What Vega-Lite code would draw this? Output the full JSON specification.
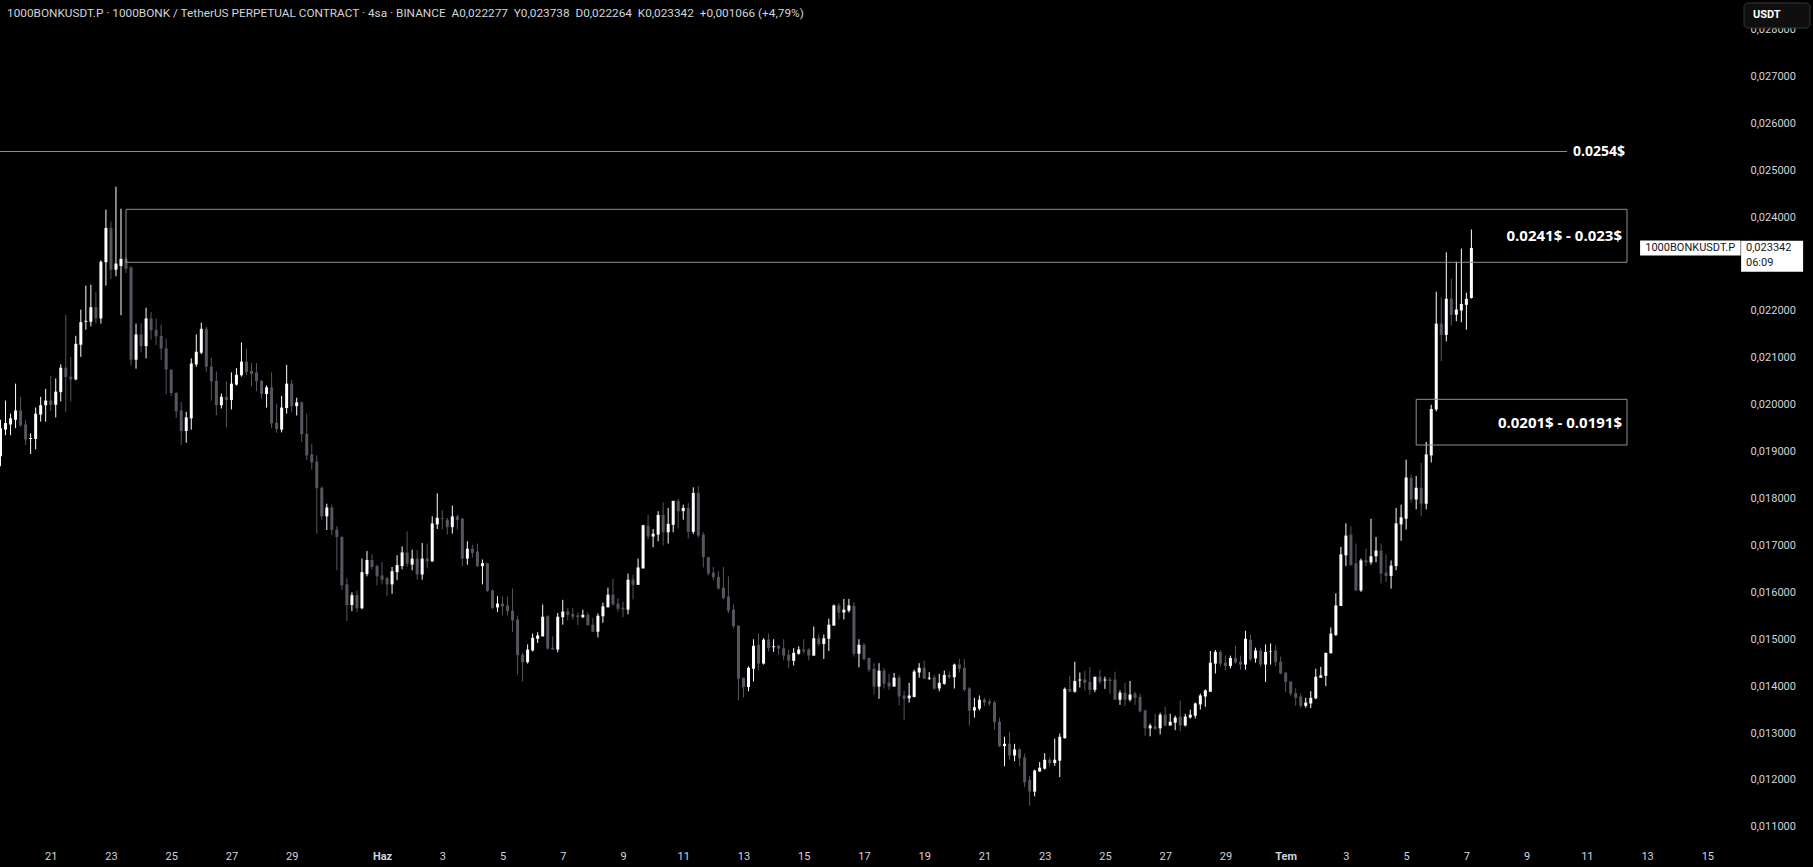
{
"$schema": "https://vega.github.io/schema/vega-lite/v6.json",
"width": 1745, "height": 840,
"autosize": {"type": "none"},
"padding": {"left": 0, "top": 0, "right": 68, "bottom": 27},
"background": "#000000",
"config": {"view": {"stroke": null}, "font": "Roboto"},
"datasets": {"candles": [
{"t":"2025-05-19T08:00Z","o":0.01890,"h":0.01968,"l":0.01869,"c":0.01950},
{"t":"2025-05-19T12:00Z","o":0.01947,"h":0.02009,"l":0.01935,"c":0.01961},
{"t":"2025-05-19T16:00Z","o":0.01958,"h":0.01981,"l":0.01935,"c":0.01971},
{"t":"2025-05-19T20:00Z","o":0.01968,"h":0.02045,"l":0.01950,"c":0.01988},
{"t":"2025-05-20T00:00Z","o":0.01988,"h":0.02017,"l":0.01953,"c":0.01956},
{"t":"2025-05-20T04:00Z","o":0.01958,"h":0.01968,"l":0.01914,"c":0.01926},
{"t":"2025-05-20T08:00Z","o":0.01927,"h":0.01939,"l":0.01895,"c":0.01929},
{"t":"2025-05-20T12:00Z","o":0.01927,"h":0.01994,"l":0.01905,"c":0.01981},
{"t":"2025-05-20T16:00Z","o":0.01979,"h":0.02017,"l":0.01964,"c":0.01999},
{"t":"2025-05-20T20:00Z","o":0.01999,"h":0.02034,"l":0.01964,"c":0.02009},
{"t":"2025-05-21T00:00Z","o":0.02009,"h":0.02062,"l":0.01986,"c":0.02000},
{"t":"2025-05-21T04:00Z","o":0.02000,"h":0.02056,"l":0.01973,"c":0.02028},
{"t":"2025-05-21T08:00Z","o":0.02027,"h":0.02086,"l":0.02007,"c":0.02079},
{"t":"2025-05-21T12:00Z","o":0.02079,"h":0.02192,"l":0.01984,"c":0.02059},
{"t":"2025-05-21T16:00Z","o":0.02060,"h":0.02102,"l":0.02007,"c":0.02054},
{"t":"2025-05-21T20:00Z","o":0.02054,"h":0.02147,"l":0.02052,"c":0.02130},
{"t":"2025-05-22T00:00Z","o":0.02128,"h":0.02203,"l":0.02102,"c":0.02176},
{"t":"2025-05-22T04:00Z","o":0.02177,"h":0.02254,"l":0.02160,"c":0.02179},
{"t":"2025-05-22T08:00Z","o":0.02177,"h":0.02256,"l":0.02167,"c":0.02208},
{"t":"2025-05-22T12:00Z","o":0.02208,"h":0.02240,"l":0.02173,"c":0.02184},
{"t":"2025-05-22T16:00Z","o":0.02184,"h":0.02308,"l":0.02173,"c":0.02305},
{"t":"2025-05-22T20:00Z","o":0.02304,"h":0.02416,"l":0.02254,"c":0.02377},
{"t":"2025-05-23T00:00Z","o":0.02377,"h":0.02391,"l":0.02268,"c":0.02288},
{"t":"2025-05-23T04:00Z","o":0.02288,"h":0.02465,"l":0.02274,"c":0.02301},
{"t":"2025-05-23T08:00Z","o":0.02296,"h":0.02418,"l":0.02191,"c":0.02311},
{"t":"2025-05-23T12:00Z","o":0.02311,"h":0.02315,"l":0.02281,"c":0.02290},
{"t":"2025-05-23T16:00Z","o":0.02293,"h":0.02295,"l":0.02084,"c":0.02096},
{"t":"2025-05-23T20:00Z","o":0.02096,"h":0.02173,"l":0.02077,"c":0.02150},
{"t":"2025-05-24T00:00Z","o":0.02150,"h":0.02174,"l":0.02112,"c":0.02125},
{"t":"2025-05-24T04:00Z","o":0.02125,"h":0.02207,"l":0.02099,"c":0.02184},
{"t":"2025-05-24T08:00Z","o":0.02184,"h":0.02198,"l":0.02139,"c":0.02159},
{"t":"2025-05-24T12:00Z","o":0.02160,"h":0.02184,"l":0.02127,"c":0.02146},
{"t":"2025-05-24T16:00Z","o":0.02147,"h":0.02171,"l":0.02095,"c":0.02120},
{"t":"2025-05-24T20:00Z","o":0.02120,"h":0.02141,"l":0.02022,"c":0.02075},
{"t":"2025-05-25T00:00Z","o":0.02075,"h":0.02075,"l":0.02018,"c":0.02025},
{"t":"2025-05-25T04:00Z","o":0.02025,"h":0.02027,"l":0.01972,"c":0.01986},
{"t":"2025-05-25T08:00Z","o":0.01988,"h":0.02006,"l":0.01914,"c":0.01944},
{"t":"2025-05-25T12:00Z","o":0.01944,"h":0.01985,"l":0.01919,"c":0.01973},
{"t":"2025-05-25T16:00Z","o":0.01971,"h":0.02099,"l":0.01947,"c":0.02088},
{"t":"2025-05-25T20:00Z","o":0.02086,"h":0.02150,"l":0.02081,"c":0.02113},
{"t":"2025-05-26T00:00Z","o":0.02111,"h":0.02175,"l":0.02108,"c":0.02162},
{"t":"2025-05-26T04:00Z","o":0.02162,"h":0.02166,"l":0.02070,"c":0.02081},
{"t":"2025-05-26T08:00Z","o":0.02081,"h":0.02100,"l":0.02009,"c":0.02050},
{"t":"2025-05-26T12:00Z","o":0.02051,"h":0.02071,"l":0.01977,"c":0.01999},
{"t":"2025-05-26T16:00Z","o":0.01999,"h":0.02024,"l":0.01992,"c":0.02017},
{"t":"2025-05-26T20:00Z","o":0.02017,"h":0.02050,"l":0.01952,"c":0.02010},
{"t":"2025-05-27T00:00Z","o":0.02010,"h":0.02069,"l":0.01990,"c":0.02045},
{"t":"2025-05-27T04:00Z","o":0.02043,"h":0.02078,"l":0.02041,"c":0.02064},
{"t":"2025-05-27T08:00Z","o":0.02063,"h":0.02133,"l":0.02060,"c":0.02092},
{"t":"2025-05-27T12:00Z","o":0.02092,"h":0.02119,"l":0.02063,"c":0.02070},
{"t":"2025-05-27T16:00Z","o":0.02072,"h":0.02089,"l":0.02039,"c":0.02066},
{"t":"2025-05-27T20:00Z","o":0.02069,"h":0.02089,"l":0.02029,"c":0.02050},
{"t":"2025-05-28T00:00Z","o":0.02051,"h":0.02053,"l":0.02013,"c":0.02023},
{"t":"2025-05-28T04:00Z","o":0.02023,"h":0.02041,"l":0.01994,"c":0.02037},
{"t":"2025-05-28T08:00Z","o":0.02037,"h":0.02069,"l":0.01950,"c":0.01960},
{"t":"2025-05-28T12:00Z","o":0.01962,"h":0.02002,"l":0.01940,"c":0.01948},
{"t":"2025-05-28T16:00Z","o":0.01947,"h":0.02019,"l":0.01941,"c":0.01994},
{"t":"2025-05-28T20:00Z","o":0.01993,"h":0.02085,"l":0.01981,"c":0.02045},
{"t":"2025-05-29T00:00Z","o":0.02045,"h":0.02053,"l":0.01984,"c":0.01997},
{"t":"2025-05-29T04:00Z","o":0.01997,"h":0.02015,"l":0.01977,"c":0.02005},
{"t":"2025-05-29T08:00Z","o":0.02005,"h":0.02007,"l":0.01920,"c":0.01937},
{"t":"2025-05-29T12:00Z","o":0.01938,"h":0.01981,"l":0.01882,"c":0.01892},
{"t":"2025-05-29T16:00Z","o":0.01894,"h":0.01917,"l":0.01862,"c":0.01877},
{"t":"2025-05-29T20:00Z","o":0.01879,"h":0.01892,"l":0.01725,"c":0.01822},
{"t":"2025-05-30T00:00Z","o":0.01823,"h":0.01826,"l":0.01755,"c":0.01762},
{"t":"2025-05-30T04:00Z","o":0.01762,"h":0.01789,"l":0.01733,"c":0.01781},
{"t":"2025-05-30T08:00Z","o":0.01781,"h":0.01787,"l":0.01722,"c":0.01733},
{"t":"2025-05-30T12:00Z","o":0.01734,"h":0.01741,"l":0.01647,"c":0.01718},
{"t":"2025-05-30T16:00Z","o":0.01718,"h":0.01720,"l":0.01605,"c":0.01615},
{"t":"2025-05-30T20:00Z","o":0.01617,"h":0.01630,"l":0.01539,"c":0.01573},
{"t":"2025-05-31T00:00Z","o":0.01573,"h":0.01600,"l":0.01560,"c":0.01594},
{"t":"2025-05-31T04:00Z","o":0.01594,"h":0.01604,"l":0.01558,"c":0.01566},
{"t":"2025-05-31T08:00Z","o":0.01566,"h":0.01672,"l":0.01564,"c":0.01643},
{"t":"2025-05-31T12:00Z","o":0.01639,"h":0.01688,"l":0.01634,"c":0.01669},
{"t":"2025-05-31T16:00Z","o":0.01669,"h":0.01681,"l":0.01649,"c":0.01654},
{"t":"2025-05-31T20:00Z","o":0.01656,"h":0.01659,"l":0.01615,"c":0.01634},
{"t":"2025-06-01T00:00Z","o":0.01636,"h":0.01665,"l":0.01617,"c":0.01627},
{"t":"2025-06-01T04:00Z","o":0.01630,"h":0.01633,"l":0.01592,"c":0.01617},
{"t":"2025-06-01T08:00Z","o":0.01617,"h":0.01654,"l":0.01597,"c":0.01645},
{"t":"2025-06-01T12:00Z","o":0.01643,"h":0.01679,"l":0.01626,"c":0.01658},
{"t":"2025-06-01T16:00Z","o":0.01656,"h":0.01698,"l":0.01649,"c":0.01685},
{"t":"2025-06-01T20:00Z","o":0.01685,"h":0.01730,"l":0.01654,"c":0.01661},
{"t":"2025-06-02T00:00Z","o":0.01659,"h":0.01691,"l":0.01647,"c":0.01672},
{"t":"2025-06-02T04:00Z","o":0.01672,"h":0.01690,"l":0.01627,"c":0.01638},
{"t":"2025-06-02T08:00Z","o":0.01638,"h":0.01705,"l":0.01627,"c":0.01672},
{"t":"2025-06-02T12:00Z","o":0.01672,"h":0.01704,"l":0.01651,"c":0.01666},
{"t":"2025-06-02T16:00Z","o":0.01666,"h":0.01762,"l":0.01665,"c":0.01747},
{"t":"2025-06-02T20:00Z","o":0.01745,"h":0.01811,"l":0.01735,"c":0.01759},
{"t":"2025-06-03T00:00Z","o":0.01758,"h":0.01775,"l":0.01734,"c":0.01756},
{"t":"2025-06-03T04:00Z","o":0.01755,"h":0.01759,"l":0.01723,"c":0.01739},
{"t":"2025-06-03T08:00Z","o":0.01739,"h":0.01785,"l":0.01725,"c":0.01762},
{"t":"2025-06-03T12:00Z","o":0.01762,"h":0.01766,"l":0.01734,"c":0.01754},
{"t":"2025-06-03T16:00Z","o":0.01757,"h":0.01759,"l":0.01656,"c":0.01672},
{"t":"2025-06-03T20:00Z","o":0.01672,"h":0.01709,"l":0.01659,"c":0.01693},
{"t":"2025-06-04T00:00Z","o":0.01693,"h":0.01701,"l":0.01674,"c":0.01684},
{"t":"2025-06-04T04:00Z","o":0.01687,"h":0.01704,"l":0.01654,"c":0.01656},
{"t":"2025-06-04T08:00Z","o":0.01656,"h":0.01670,"l":0.01617,"c":0.01662},
{"t":"2025-06-04T12:00Z","o":0.01662,"h":0.01662,"l":0.01601,"c":0.01603},
{"t":"2025-06-04T16:00Z","o":0.01604,"h":0.01606,"l":0.01564,"c":0.01567},
{"t":"2025-06-04T20:00Z","o":0.01568,"h":0.01592,"l":0.01558,"c":0.01576},
{"t":"2025-06-05T00:00Z","o":0.01576,"h":0.01591,"l":0.01551,"c":0.01570},
{"t":"2025-06-05T04:00Z","o":0.01572,"h":0.01591,"l":0.01551,"c":0.01560},
{"t":"2025-06-05T08:00Z","o":0.01561,"h":0.01608,"l":0.01515,"c":0.01540},
{"t":"2025-06-05T12:00Z","o":0.01542,"h":0.01549,"l":0.01425,"c":0.01466},
{"t":"2025-06-05T16:00Z","o":0.01467,"h":0.01471,"l":0.01410,"c":0.01451},
{"t":"2025-06-05T20:00Z","o":0.01451,"h":0.01489,"l":0.01448,"c":0.01478},
{"t":"2025-06-06T00:00Z","o":0.01476,"h":0.01512,"l":0.01474,"c":0.01503},
{"t":"2025-06-06T04:00Z","o":0.01501,"h":0.01515,"l":0.01492,"c":0.01508},
{"t":"2025-06-06T08:00Z","o":0.01506,"h":0.01574,"l":0.01506,"c":0.01548},
{"t":"2025-06-06T12:00Z","o":0.01549,"h":0.01551,"l":0.01478,"c":0.01480},
{"t":"2025-06-06T16:00Z","o":0.01482,"h":0.01506,"l":0.01478,"c":0.01478},
{"t":"2025-06-06T20:00Z","o":0.01478,"h":0.01556,"l":0.01472,"c":0.01548},
{"t":"2025-06-07T00:00Z","o":0.01547,"h":0.01584,"l":0.01531,"c":0.01559},
{"t":"2025-06-07T04:00Z","o":0.01559,"h":0.01567,"l":0.01540,"c":0.01552},
{"t":"2025-06-07T08:00Z","o":0.01554,"h":0.01567,"l":0.01542,"c":0.01548},
{"t":"2025-06-07T12:00Z","o":0.01551,"h":0.01557,"l":0.01530,"c":0.01547},
{"t":"2025-06-07T16:00Z","o":0.01547,"h":0.01563,"l":0.01545,"c":0.01552},
{"t":"2025-06-07T20:00Z","o":0.01552,"h":0.01557,"l":0.01529,"c":0.01530},
{"t":"2025-06-08T00:00Z","o":0.01531,"h":0.01545,"l":0.01516,"c":0.01516},
{"t":"2025-06-08T04:00Z","o":0.01516,"h":0.01555,"l":0.01504,"c":0.01550},
{"t":"2025-06-08T08:00Z","o":0.01549,"h":0.01578,"l":0.01535,"c":0.01570},
{"t":"2025-06-08T12:00Z","o":0.01568,"h":0.01610,"l":0.01568,"c":0.01595},
{"t":"2025-06-08T16:00Z","o":0.01595,"h":0.01629,"l":0.01572,"c":0.01574},
{"t":"2025-06-08T20:00Z","o":0.01576,"h":0.01588,"l":0.01559,"c":0.01565},
{"t":"2025-06-09T00:00Z","o":0.01567,"h":0.01580,"l":0.01547,"c":0.01564},
{"t":"2025-06-09T04:00Z","o":0.01563,"h":0.01640,"l":0.01553,"c":0.01627},
{"t":"2025-06-09T08:00Z","o":0.01627,"h":0.01637,"l":0.01585,"c":0.01616},
{"t":"2025-06-09T12:00Z","o":0.01616,"h":0.01672,"l":0.01616,"c":0.01653},
{"t":"2025-06-09T16:00Z","o":0.01651,"h":0.01744,"l":0.01651,"c":0.01743},
{"t":"2025-06-09T20:00Z","o":0.01742,"h":0.01765,"l":0.01713,"c":0.01719},
{"t":"2025-06-10T00:00Z","o":0.01719,"h":0.01735,"l":0.01696,"c":0.01725},
{"t":"2025-06-10T04:00Z","o":0.01723,"h":0.01773,"l":0.01709,"c":0.01765},
{"t":"2025-06-10T08:00Z","o":0.01765,"h":0.01792,"l":0.01700,"c":0.01728},
{"t":"2025-06-10T12:00Z","o":0.01728,"h":0.01780,"l":0.01704,"c":0.01746},
{"t":"2025-06-10T16:00Z","o":0.01744,"h":0.01795,"l":0.01728,"c":0.01795},
{"t":"2025-06-10T20:00Z","o":0.01795,"h":0.01799,"l":0.01736,"c":0.01773},
{"t":"2025-06-11T00:00Z","o":0.01773,"h":0.01787,"l":0.01755,"c":0.01780},
{"t":"2025-06-11T04:00Z","o":0.01780,"h":0.01791,"l":0.01715,"c":0.01729},
{"t":"2025-06-11T08:00Z","o":0.01729,"h":0.01824,"l":0.01724,"c":0.01812},
{"t":"2025-06-11T12:00Z","o":0.01812,"h":0.01827,"l":0.01717,"c":0.01721},
{"t":"2025-06-11T16:00Z","o":0.01723,"h":0.01728,"l":0.01653,"c":0.01675},
{"t":"2025-06-11T20:00Z","o":0.01675,"h":0.01675,"l":0.01636,"c":0.01640},
{"t":"2025-06-12T00:00Z","o":0.01642,"h":0.01654,"l":0.01626,"c":0.01632},
{"t":"2025-06-12T04:00Z","o":0.01633,"h":0.01645,"l":0.01606,"c":0.01608},
{"t":"2025-06-12T08:00Z","o":0.01610,"h":0.01654,"l":0.01585,"c":0.01588},
{"t":"2025-06-12T12:00Z","o":0.01591,"h":0.01634,"l":0.01556,"c":0.01561},
{"t":"2025-06-12T16:00Z","o":0.01563,"h":0.01574,"l":0.01523,"c":0.01528},
{"t":"2025-06-12T20:00Z","o":0.01529,"h":0.01529,"l":0.01370,"c":0.01416},
{"t":"2025-06-13T00:00Z","o":0.01418,"h":0.01418,"l":0.01376,"c":0.01398},
{"t":"2025-06-13T04:00Z","o":0.01398,"h":0.01442,"l":0.01389,"c":0.01439},
{"t":"2025-06-13T08:00Z","o":0.01437,"h":0.01500,"l":0.01410,"c":0.01486},
{"t":"2025-06-13T12:00Z","o":0.01488,"h":0.01512,"l":0.01434,"c":0.01448},
{"t":"2025-06-13T16:00Z","o":0.01448,"h":0.01502,"l":0.01446,"c":0.01499},
{"t":"2025-06-13T20:00Z","o":0.01499,"h":0.01512,"l":0.01474,"c":0.01481},
{"t":"2025-06-14T00:00Z","o":0.01483,"h":0.01500,"l":0.01473,"c":0.01485},
{"t":"2025-06-14T04:00Z","o":0.01486,"h":0.01488,"l":0.01467,"c":0.01480},
{"t":"2025-06-14T08:00Z","o":0.01481,"h":0.01500,"l":0.01455,"c":0.01465},
{"t":"2025-06-14T12:00Z","o":0.01467,"h":0.01478,"l":0.01438,"c":0.01454},
{"t":"2025-06-14T16:00Z","o":0.01454,"h":0.01481,"l":0.01444,"c":0.01471},
{"t":"2025-06-14T20:00Z","o":0.01469,"h":0.01485,"l":0.01467,"c":0.01478},
{"t":"2025-06-15T00:00Z","o":0.01478,"h":0.01500,"l":0.01469,"c":0.01474},
{"t":"2025-06-15T04:00Z","o":0.01478,"h":0.01481,"l":0.01455,"c":0.01465},
{"t":"2025-06-15T08:00Z","o":0.01465,"h":0.01527,"l":0.01465,"c":0.01502},
{"t":"2025-06-15T12:00Z","o":0.01502,"h":0.01511,"l":0.01486,"c":0.01490},
{"t":"2025-06-15T16:00Z","o":0.01490,"h":0.01510,"l":0.01458,"c":0.01502},
{"t":"2025-06-15T20:00Z","o":0.01501,"h":0.01544,"l":0.01475,"c":0.01531},
{"t":"2025-06-16T00:00Z","o":0.01529,"h":0.01574,"l":0.01529,"c":0.01572},
{"t":"2025-06-16T04:00Z","o":0.01572,"h":0.01577,"l":0.01542,"c":0.01557},
{"t":"2025-06-16T08:00Z","o":0.01557,"h":0.01586,"l":0.01542,"c":0.01563},
{"t":"2025-06-16T12:00Z","o":0.01561,"h":0.01586,"l":0.01557,"c":0.01572},
{"t":"2025-06-16T16:00Z","o":0.01571,"h":0.01579,"l":0.01463,"c":0.01469},
{"t":"2025-06-16T20:00Z","o":0.01469,"h":0.01500,"l":0.01440,"c":0.01488},
{"t":"2025-06-17T00:00Z","o":0.01488,"h":0.01492,"l":0.01455,"c":0.01458},
{"t":"2025-06-17T04:00Z","o":0.01460,"h":0.01461,"l":0.01430,"c":0.01435},
{"t":"2025-06-17T08:00Z","o":0.01437,"h":0.01449,"l":0.01382,"c":0.01399},
{"t":"2025-06-17T12:00Z","o":0.01399,"h":0.01449,"l":0.01373,"c":0.01433},
{"t":"2025-06-17T16:00Z","o":0.01433,"h":0.01439,"l":0.01395,"c":0.01405},
{"t":"2025-06-17T20:00Z","o":0.01408,"h":0.01426,"l":0.01392,"c":0.01399},
{"t":"2025-06-18T00:00Z","o":0.01399,"h":0.01428,"l":0.01399,"c":0.01418},
{"t":"2025-06-18T04:00Z","o":0.01418,"h":0.01424,"l":0.01359,"c":0.01378},
{"t":"2025-06-18T08:00Z","o":0.01380,"h":0.01390,"l":0.01328,"c":0.01373},
{"t":"2025-06-18T12:00Z","o":0.01374,"h":0.01407,"l":0.01365,"c":0.01380},
{"t":"2025-06-18T16:00Z","o":0.01377,"h":0.01435,"l":0.01376,"c":0.01431},
{"t":"2025-06-18T20:00Z","o":0.01429,"h":0.01449,"l":0.01418,"c":0.01439},
{"t":"2025-06-19T00:00Z","o":0.01439,"h":0.01454,"l":0.01416,"c":0.01416},
{"t":"2025-06-19T04:00Z","o":0.01416,"h":0.01430,"l":0.01413,"c":0.01418},
{"t":"2025-06-19T08:00Z","o":0.01419,"h":0.01424,"l":0.01392,"c":0.01395},
{"t":"2025-06-19T12:00Z","o":0.01395,"h":0.01426,"l":0.01389,"c":0.01407},
{"t":"2025-06-19T16:00Z","o":0.01405,"h":0.01433,"l":0.01403,"c":0.01424},
{"t":"2025-06-19T20:00Z","o":0.01424,"h":0.01431,"l":0.01416,"c":0.01419},
{"t":"2025-06-20T00:00Z","o":0.01419,"h":0.01448,"l":0.01395,"c":0.01446},
{"t":"2025-06-20T04:00Z","o":0.01446,"h":0.01458,"l":0.01429,"c":0.01437},
{"t":"2025-06-20T08:00Z","o":0.01439,"h":0.01458,"l":0.01389,"c":0.01392},
{"t":"2025-06-20T12:00Z","o":0.01395,"h":0.01398,"l":0.01316,"c":0.01348},
{"t":"2025-06-20T16:00Z","o":0.01348,"h":0.01375,"l":0.01333,"c":0.01355},
{"t":"2025-06-20T20:00Z","o":0.01352,"h":0.01380,"l":0.01348,"c":0.01371},
{"t":"2025-06-21T00:00Z","o":0.01371,"h":0.01375,"l":0.01357,"c":0.01365},
{"t":"2025-06-21T04:00Z","o":0.01367,"h":0.01373,"l":0.01358,"c":0.01363},
{"t":"2025-06-21T08:00Z","o":0.01365,"h":0.01369,"l":0.01307,"c":0.01323},
{"t":"2025-06-21T12:00Z","o":0.01324,"h":0.01333,"l":0.01270,"c":0.01272},
{"t":"2025-06-21T16:00Z","o":0.01272,"h":0.01292,"l":0.01229,"c":0.01277},
{"t":"2025-06-21T20:00Z","o":0.01277,"h":0.01303,"l":0.01243,"c":0.01252},
{"t":"2025-06-22T00:00Z","o":0.01252,"h":0.01277,"l":0.01240,"c":0.01265},
{"t":"2025-06-22T04:00Z","o":0.01265,"h":0.01267,"l":0.01229,"c":0.01246},
{"t":"2025-06-22T08:00Z","o":0.01248,"h":0.01256,"l":0.01185,"c":0.01195},
{"t":"2025-06-22T12:00Z","o":0.01200,"h":0.01208,"l":0.01145,"c":0.01175},
{"t":"2025-06-22T16:00Z","o":0.01175,"h":0.01222,"l":0.01165,"c":0.01220},
{"t":"2025-06-22T20:00Z","o":0.01218,"h":0.01238,"l":0.01217,"c":0.01226},
{"t":"2025-06-23T00:00Z","o":0.01224,"h":0.01257,"l":0.01222,"c":0.01243},
{"t":"2025-06-23T04:00Z","o":0.01243,"h":0.01248,"l":0.01229,"c":0.01236},
{"t":"2025-06-23T08:00Z","o":0.01236,"h":0.01288,"l":0.01230,"c":0.01243},
{"t":"2025-06-23T12:00Z","o":0.01241,"h":0.01299,"l":0.01206,"c":0.01292},
{"t":"2025-06-23T16:00Z","o":0.01289,"h":0.01397,"l":0.01288,"c":0.01394},
{"t":"2025-06-23T20:00Z","o":0.01394,"h":0.01422,"l":0.01388,"c":0.01388},
{"t":"2025-06-24T00:00Z","o":0.01388,"h":0.01452,"l":0.01386,"c":0.01411},
{"t":"2025-06-24T04:00Z","o":0.01412,"h":0.01429,"l":0.01397,"c":0.01414},
{"t":"2025-06-24T08:00Z","o":0.01414,"h":0.01433,"l":0.01391,"c":0.01407},
{"t":"2025-06-24T12:00Z","o":0.01409,"h":0.01441,"l":0.01382,"c":0.01392},
{"t":"2025-06-24T16:00Z","o":0.01392,"h":0.01420,"l":0.01387,"c":0.01420},
{"t":"2025-06-24T20:00Z","o":0.01420,"h":0.01435,"l":0.01405,"c":0.01409},
{"t":"2025-06-25T00:00Z","o":0.01412,"h":0.01420,"l":0.01394,"c":0.01414},
{"t":"2025-06-25T04:00Z","o":0.01414,"h":0.01419,"l":0.01384,"c":0.01411},
{"t":"2025-06-25T08:00Z","o":0.01414,"h":0.01431,"l":0.01371,"c":0.01371},
{"t":"2025-06-25T12:00Z","o":0.01371,"h":0.01391,"l":0.01360,"c":0.01386},
{"t":"2025-06-25T16:00Z","o":0.01386,"h":0.01407,"l":0.01358,"c":0.01371},
{"t":"2025-06-25T20:00Z","o":0.01371,"h":0.01411,"l":0.01367,"c":0.01382},
{"t":"2025-06-26T00:00Z","o":0.01384,"h":0.01388,"l":0.01360,"c":0.01375},
{"t":"2025-06-26T04:00Z","o":0.01377,"h":0.01384,"l":0.01344,"c":0.01346},
{"t":"2025-06-26T08:00Z","o":0.01348,"h":0.01350,"l":0.01294,"c":0.01310},
{"t":"2025-06-26T12:00Z","o":0.01310,"h":0.01320,"l":0.01293,"c":0.01316},
{"t":"2025-06-26T16:00Z","o":0.01314,"h":0.01341,"l":0.01307,"c":0.01309},
{"t":"2025-06-26T20:00Z","o":0.01310,"h":0.01343,"l":0.01297,"c":0.01339},
{"t":"2025-06-27T00:00Z","o":0.01339,"h":0.01356,"l":0.01314,"c":0.01316},
{"t":"2025-06-27T04:00Z","o":0.01316,"h":0.01341,"l":0.01316,"c":0.01324},
{"t":"2025-06-27T08:00Z","o":0.01322,"h":0.01337,"l":0.01306,"c":0.01333},
{"t":"2025-06-27T12:00Z","o":0.01335,"h":0.01369,"l":0.01304,"c":0.01316},
{"t":"2025-06-27T16:00Z","o":0.01316,"h":0.01341,"l":0.01314,"c":0.01335},
{"t":"2025-06-27T20:00Z","o":0.01333,"h":0.01350,"l":0.01331,"c":0.01339},
{"t":"2025-06-28T00:00Z","o":0.01337,"h":0.01365,"l":0.01331,"c":0.01363},
{"t":"2025-06-28T04:00Z","o":0.01361,"h":0.01384,"l":0.01350,"c":0.01380},
{"t":"2025-06-28T08:00Z","o":0.01378,"h":0.01393,"l":0.01356,"c":0.01391},
{"t":"2025-06-28T12:00Z","o":0.01388,"h":0.01475,"l":0.01388,"c":0.01450},
{"t":"2025-06-28T16:00Z","o":0.01448,"h":0.01477,"l":0.01427,"c":0.01473},
{"t":"2025-06-28T20:00Z","o":0.01473,"h":0.01477,"l":0.01442,"c":0.01448},
{"t":"2025-06-29T00:00Z","o":0.01450,"h":0.01465,"l":0.01434,"c":0.01443},
{"t":"2025-06-29T04:00Z","o":0.01443,"h":0.01465,"l":0.01438,"c":0.01460},
{"t":"2025-06-29T08:00Z","o":0.01460,"h":0.01486,"l":0.01448,"c":0.01450},
{"t":"2025-06-29T12:00Z","o":0.01452,"h":0.01465,"l":0.01435,"c":0.01446},
{"t":"2025-06-29T16:00Z","o":0.01446,"h":0.01518,"l":0.01435,"c":0.01501},
{"t":"2025-06-29T20:00Z","o":0.01499,"h":0.01510,"l":0.01453,"c":0.01457},
{"t":"2025-06-30T00:00Z","o":0.01459,"h":0.01482,"l":0.01450,"c":0.01476},
{"t":"2025-06-30T04:00Z","o":0.01476,"h":0.01482,"l":0.01441,"c":0.01446},
{"t":"2025-06-30T08:00Z","o":0.01446,"h":0.01489,"l":0.01409,"c":0.01473},
{"t":"2025-06-30T12:00Z","o":0.01473,"h":0.01491,"l":0.01446,"c":0.01474},
{"t":"2025-06-30T16:00Z","o":0.01476,"h":0.01487,"l":0.01443,"c":0.01451},
{"t":"2025-06-30T20:00Z","o":0.01452,"h":0.01463,"l":0.01425,"c":0.01427},
{"t":"2025-07-01T00:00Z","o":0.01429,"h":0.01429,"l":0.01387,"c":0.01409},
{"t":"2025-07-01T04:00Z","o":0.01410,"h":0.01410,"l":0.01379,"c":0.01384},
{"t":"2025-07-01T08:00Z","o":0.01385,"h":0.01395,"l":0.01358,"c":0.01375},
{"t":"2025-07-01T12:00Z","o":0.01378,"h":0.01384,"l":0.01354,"c":0.01358},
{"t":"2025-07-01T16:00Z","o":0.01358,"h":0.01375,"l":0.01354,"c":0.01365},
{"t":"2025-07-01T20:00Z","o":0.01363,"h":0.01389,"l":0.01353,"c":0.01375},
{"t":"2025-07-02T00:00Z","o":0.01374,"h":0.01437,"l":0.01372,"c":0.01420},
{"t":"2025-07-02T04:00Z","o":0.01418,"h":0.01441,"l":0.01418,"c":0.01423},
{"t":"2025-07-02T08:00Z","o":0.01422,"h":0.01471,"l":0.01400,"c":0.01471},
{"t":"2025-07-02T12:00Z","o":0.01470,"h":0.01525,"l":0.01470,"c":0.01512},
{"t":"2025-07-02T16:00Z","o":0.01509,"h":0.01598,"l":0.01507,"c":0.01572},
{"t":"2025-07-02T20:00Z","o":0.01571,"h":0.01697,"l":0.01571,"c":0.01681},
{"t":"2025-07-03T00:00Z","o":0.01679,"h":0.01747,"l":0.01656,"c":0.01721},
{"t":"2025-07-03T04:00Z","o":0.01723,"h":0.01741,"l":0.01657,"c":0.01658},
{"t":"2025-07-03T08:00Z","o":0.01662,"h":0.01704,"l":0.01603,"c":0.01604},
{"t":"2025-07-03T12:00Z","o":0.01604,"h":0.01672,"l":0.01601,"c":0.01668},
{"t":"2025-07-03T16:00Z","o":0.01668,"h":0.01693,"l":0.01656,"c":0.01664},
{"t":"2025-07-03T20:00Z","o":0.01664,"h":0.01757,"l":0.01659,"c":0.01677},
{"t":"2025-07-04T00:00Z","o":0.01677,"h":0.01718,"l":0.01664,"c":0.01689},
{"t":"2025-07-04T04:00Z","o":0.01689,"h":0.01704,"l":0.01619,"c":0.01640},
{"t":"2025-07-04T08:00Z","o":0.01642,"h":0.01681,"l":0.01622,"c":0.01635},
{"t":"2025-07-04T12:00Z","o":0.01635,"h":0.01668,"l":0.01608,"c":0.01657},
{"t":"2025-07-04T16:00Z","o":0.01656,"h":0.01780,"l":0.01647,"c":0.01747},
{"t":"2025-07-04T20:00Z","o":0.01745,"h":0.01787,"l":0.01710,"c":0.01760},
{"t":"2025-07-05T00:00Z","o":0.01757,"h":0.01883,"l":0.01734,"c":0.01845},
{"t":"2025-07-05T04:00Z","o":0.01844,"h":0.01851,"l":0.01791,"c":0.01798},
{"t":"2025-07-05T08:00Z","o":0.01798,"h":0.01848,"l":0.01777,"c":0.01823},
{"t":"2025-07-05T12:00Z","o":0.01823,"h":0.01876,"l":0.01762,"c":0.01789},
{"t":"2025-07-05T16:00Z","o":0.01789,"h":0.01921,"l":0.01777,"c":0.01894},
{"t":"2025-07-05T20:00Z","o":0.01892,"h":0.02000,"l":0.01877,"c":0.01991},
{"t":"2025-07-06T00:00Z","o":0.01990,"h":0.02241,"l":0.01986,"c":0.02173},
{"t":"2025-07-06T04:00Z","o":0.02173,"h":0.02229,"l":0.02093,"c":0.02149},
{"t":"2025-07-06T08:00Z","o":0.02149,"h":0.02325,"l":0.02135,"c":0.02226},
{"t":"2025-07-06T12:00Z","o":0.02226,"h":0.02269,"l":0.02169,"c":0.02192},
{"t":"2025-07-06T16:00Z","o":0.02192,"h":0.02305,"l":0.02178,"c":0.02203},
{"t":"2025-07-06T20:00Z","o":0.02201,"h":0.02333,"l":0.02176,"c":0.02215},
{"t":"2025-07-07T00:00Z","o":0.02213,"h":0.02239,"l":0.02160,"c":0.02226},
{"t":"2025-07-07T04:00Z","o":0.022277,"h":0.023738,"l":0.022264,"c":0.023342}
]},
"layer": [
{
"data": {"name": "candles"},
"encoding": {
"x": {"field": "t", "type": "temporal", "title": null,
"scale": {"type": "utc", "padding": 0, "domain": [{"year": 2025, "month": 5, "date": 19, "hours": 7, "minutes": 36, "utc": true}, {"year": 2025, "month": 7, "date": 16, "hours": 6, "minutes": 0, "utc": true}]},
"axis": {"orient": "bottom", "ticks": false, "domain": false, "grid": false, "labelPadding": 10, "labelFontSize": 11, "labelFont": "Roboto", "labelColor": "#d1d4dc", "labelOverlap": false, "labelFlush": false,
"labelFontWeight": {"condition": {"test": "utcdate(datum.value) == 1", "value": "bold"}, "value": "normal"},
"labelExpr": "utcdate(datum.value) == 1 ? (utcmonth(datum.value) == 5 ? 'Haz' : 'Tem') : '' + utcdate(datum.value)",
"values": [
{"year": 2025, "month": 5, "date": 21, "utc": true}, {"year": 2025, "month": 5, "date": 23, "utc": true}, {"year": 2025, "month": 5, "date": 25, "utc": true}, {"year": 2025, "month": 5, "date": 27, "utc": true}, {"year": 2025, "month": 5, "date": 29, "utc": true},
{"year": 2025, "month": 6, "date": 1, "utc": true}, {"year": 2025, "month": 6, "date": 3, "utc": true}, {"year": 2025, "month": 6, "date": 5, "utc": true}, {"year": 2025, "month": 6, "date": 7, "utc": true}, {"year": 2025, "month": 6, "date": 9, "utc": true}, {"year": 2025, "month": 6, "date": 11, "utc": true}, {"year": 2025, "month": 6, "date": 13, "utc": true}, {"year": 2025, "month": 6, "date": 15, "utc": true}, {"year": 2025, "month": 6, "date": 17, "utc": true}, {"year": 2025, "month": 6, "date": 19, "utc": true}, {"year": 2025, "month": 6, "date": 21, "utc": true}, {"year": 2025, "month": 6, "date": 23, "utc": true}, {"year": 2025, "month": 6, "date": 25, "utc": true}, {"year": 2025, "month": 6, "date": 27, "utc": true}, {"year": 2025, "month": 6, "date": 29, "utc": true},
{"year": 2025, "month": 7, "date": 1, "utc": true}, {"year": 2025, "month": 7, "date": 3, "utc": true}, {"year": 2025, "month": 7, "date": 5, "utc": true}, {"year": 2025, "month": 7, "date": 7, "utc": true}, {"year": 2025, "month": 7, "date": 9, "utc": true}, {"year": 2025, "month": 7, "date": 11, "utc": true}, {"year": 2025, "month": 7, "date": 13, "utc": true}, {"year": 2025, "month": 7, "date": 15, "utc": true}
]}},
"color": {"condition": {"test": "datum.c >= datum.o", "value": "#ffffff"}, "value": "#54575f"}
},
"layer": [
{"mark": {"type": "rule", "strokeWidth": 1},
"encoding": {
"y": {"field": "l", "type": "quantitative", "title": null,
"scale": {"domain": [0.0107186, 0.0286313], "nice": false, "zero": false, "padding": 0},
"axis": {"orient": "right", "ticks": false, "domain": false, "grid": false, "labelPadding": 5, "labelFontSize": 11, "labelFont": "Roboto", "labelColor": "#d1d4dc", "labelAlign": "left", "labelBaseline": "middle", "labelOverlap": false, "labelFlush": false,
"values": [0.011, 0.012, 0.013, 0.014, 0.015, 0.016, 0.017, 0.018, 0.019, 0.020, 0.021, 0.022, 0.024, 0.025, 0.026, 0.027, 0.028],
"labelExpr": "replace(format(datum.value, '.6f'), '.', ',')"}},
"y2": {"field": "h"}}},
{"mark": {"type": "bar", "width": 3},
"encoding": {
"y": {"field": "o", "type": "quantitative", "title": null},
"y2": {"field": "c"}}}
]
},
{
"data": {"values": [{"a": "2025-05-19T07:36Z", "b": "2025-07-10T08:12Z", "p": 0.0254}]},
"mark": {"type": "rule", "color": "#8f8f8f", "strokeWidth": 1},
"encoding": {
"x": {"field": "a", "type": "temporal", "title": null},
"x2": {"field": "b"},
"y": {"field": "p", "type": "quantitative", "title": null}}
},
{
"data": {"values": [
{"a": "2025-05-23T12:00Z", "b": "2025-07-12T08:00Z", "p1": 0.024168, "p2": 0.023038},
{"a": "2025-07-05T08:00Z", "b": "2025-07-12T08:00Z", "p1": 0.020116, "p2": 0.019142}]},
"mark": {"type": "rect", "filled": false, "stroke": "#8f8f8f", "strokeWidth": 1},
"encoding": {
"x": {"field": "a", "type": "temporal", "title": null},
"x2": {"field": "b"},
"y": {"field": "p1", "type": "quantitative", "title": null},
"y2": {"field": "p2"}}
},
{
"data": {"values": [{"a": "2025-07-10T13:00Z", "p": 0.0254, "s": "0.0254$"}]},
"mark": {"type": "text", "align": "left", "baseline": "middle", "font": "Open Sans", "fontSize": 14, "fontWeight": "bold", "color": "#ffffff"},
"encoding": {
"x": {"field": "a", "type": "temporal", "title": null},
"y": {"field": "p", "type": "quantitative", "title": null},
"text": {"field": "s"}}
},
{
"data": {"values": [
{"a": "2025-07-12T04:00Z", "p": 0.023599, "s": "0.0241$ - 0.023$"},
{"a": "2025-07-12T04:00Z", "p": 0.019617, "s": "0.0201$ - 0.0191$"}]},
"mark": {"type": "text", "align": "right", "baseline": "middle", "font": "Open Sans", "fontSize": 15, "fontWeight": "bold", "color": "#ffffff"},
"encoding": {
"x": {"field": "a", "type": "temporal", "title": null},
"y": {"field": "p", "type": "quantitative", "title": null},
"text": {"field": "s"}}
},
{
"data": {"values": [{"a": "2025-05-19T13:11Z", "p": 0.028356, "s": "1000BONKUSDT.P · 1000BONK / TetherUS PERPETUAL CONTRACT · 4sa · BINANCE\u00a0\u00a0A0,022277\u00a0\u00a0Y0,023738\u00a0\u00a0D0,022264\u00a0\u00a0K0,023342\u00a0\u00a0+0,001066 (+4,79%)"}]},
"mark": {"type": "text", "align": "left", "baseline": "middle", "font": "Roboto", "fontSize": 11.8, "color": "#d1d4dc"},
"encoding": {
"x": {"field": "a", "type": "temporal", "title": null},
"y": {"field": "p", "type": "quantitative", "title": null},
"text": {"field": "s"}}
},
{
"data": {"values": [
{"a": "2025-07-12T18:24Z", "b": "2025-07-16T02:30Z", "p1": 0.023502, "p2": 0.023182},
{"a": "2025-07-16T02:54Z", "b": "2025-07-18T04:18Z", "p1": 0.023498, "p2": 0.022837}]},
"mark": {"type": "rect", "color": "#ffffff"},
"encoding": {
"x": {"field": "a", "type": "temporal", "title": null},
"x2": {"field": "b"},
"y": {"field": "p1", "type": "quantitative", "title": null},
"y2": {"field": "p2"}}
},
{
"data": {"values": [{"a": "2025-07-14T10:20Z", "p": 0.023342, "s": "1000BONKUSDT.P"}]},
"mark": {"type": "text", "align": "center", "baseline": "middle", "font": "Roboto", "fontSize": 11, "color": "#131722"},
"encoding": {
"x": {"field": "a", "type": "temporal", "title": null},
"y": {"field": "p", "type": "quantitative", "title": null},
"text": {"field": "s"}}
},
{
"data": {"values": [
{"a": "2025-07-16T06:48Z", "p": 0.023343, "s": "0,023342"},
{"a": "2025-07-16T06:48Z", "p": 0.023029, "s": "06:09"}]},
"mark": {"type": "text", "align": "left", "baseline": "middle", "font": "Roboto", "fontSize": 11, "color": "#131722"},
"encoding": {
"x": {"field": "a", "type": "temporal", "title": null},
"y": {"field": "p", "type": "quantitative", "title": null},
"text": {"field": "s"}}
},
{
"data": {"values": [{"a": "2025-07-16T05:12Z", "b": "2025-07-18T09:48Z", "p1": 0.028567, "p2": 0.028034}]},
"mark": {"type": "rect", "color": "#0f0f0f", "stroke": "#363636", "strokeWidth": 1, "cornerRadius": 4},
"encoding": {
"x": {"field": "a", "type": "temporal", "title": null},
"x2": {"field": "b"},
"y": {"field": "p1", "type": "quantitative", "title": null},
"y2": {"field": "p2"}}
},
{
"data": {"values": [{"a": "2025-07-16T12:24Z", "p": 0.028301, "s": "USDT"}]},
"mark": {"type": "text", "align": "left", "baseline": "middle", "font": "Roboto", "fontSize": 11, "fontWeight": "bold", "color": "#ffffff"},
"encoding": {
"x": {"field": "a", "type": "temporal", "title": null},
"y": {"field": "p", "type": "quantitative", "title": null},
"text": {"field": "s"}}
}
]
}
